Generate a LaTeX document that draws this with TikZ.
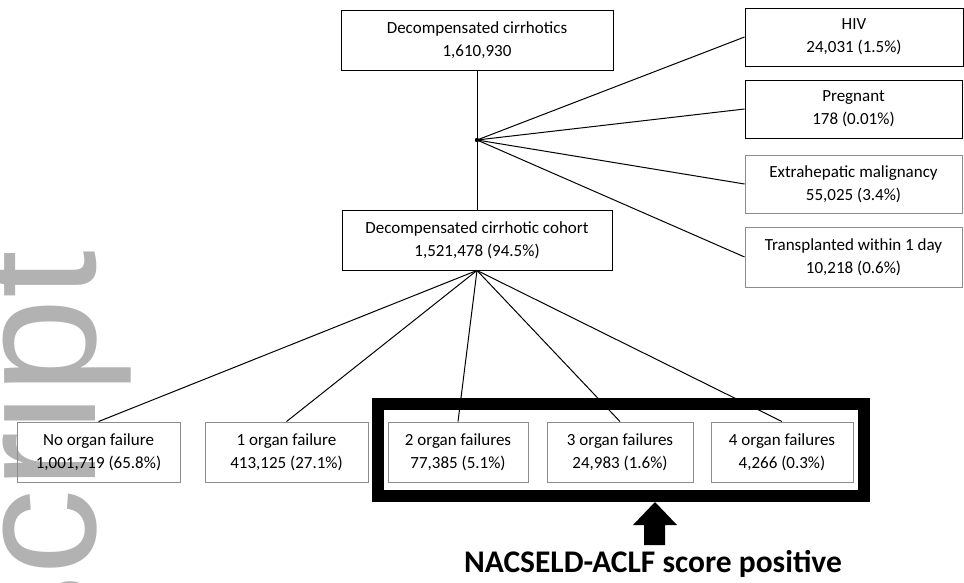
\documentclass[tikz,border=0pt]{standalone}
\usepackage{fontspec}
\setmainfont{Carlito}
\newfontfamily\wmfont{Liberation Sans}
\begin{document}
\begin{tikzpicture}[x=1pt,y=-1pt,
  box/.style={draw=black, line width=0.9pt, align=center, inner sep=0pt,
    font=\fontsize{17}{23}\selectfont},
  lightbox/.style={box, draw=black!45},
  link/.style={line width=1pt},
  wmark/.style={text=black!30, font=\wmfont\fontsize{172}{172}\selectfont,
    rotate=90, inner sep=0pt, outer sep=0pt, anchor=base east}]
\useasboundingbox (0,0) rectangle (964,582);
% watermark (behind)
\node[wmark] (wm) at (95,251) {script};
% top boxes
\node[box, minimum width=272pt, minimum height=60pt] (top) at (477,40)
  {Decompensated cirrhotics\\1,610,930};
\node[box, minimum width=270pt, minimum height=60pt] (mid) at (477,240)
  {Decompensated cirrhotic cohort\\1,521,478 (94.5\%)};
% exclusion boxes
\node[box, minimum width=218pt, minimum height=58pt] (hiv) at (854,37)
  {HIV\\24,031 (1.5\%)};
\node[box, minimum width=217pt, minimum height=58pt] (preg) at (853.5,109)
  {Pregnant\\178 (0.01\%)};
\node[lightbox, minimum width=217pt, minimum height=58pt] (extra) at (853.5,184)
  {Extrahepatic malignancy\\55,025 (3.4\%)};
\node[lightbox, minimum width=217pt, minimum height=60pt] (trans) at (853.5,257)
  {Transplanted within 1 day\\10,218 (0.6\%)};
% bottom boxes
\node[lightbox, minimum width=163pt, minimum height=60pt] (no) at (98.5,452)
  {No organ failure\\1,001,719 (65.8\%)};
\node[lightbox, minimum width=163pt, minimum height=60pt] (one) at (286.5,452)
  {1 organ failure\\413,125 (27.1\%)};
\node[lightbox, minimum width=140pt, minimum height=60pt] (two) at (458,452)
  {2 organ failures\\77,385 (5.1\%)};
\node[lightbox, minimum width=146pt, minimum height=60pt] (three) at (620,452)
  {3 organ failures\\24,983 (1.6\%)};
\node[lightbox, minimum width=142pt, minimum height=60pt] (four) at (782,452)
  {4 organ failures\\4,266 (0.3\%)};
% highlight frame
\draw[line width=12pt] (378,403.5) rectangle (864,496);
% connectors
\coordinate (br) at (477,140);
\draw[link] (top.south) -- (mid.north);
\fill (br) circle (2.2pt);
\foreach \t in {hiv,preg,extra,trans} \draw[link] (br) -- (\t.west);
\foreach \t in {no,one,two,three,four} \draw[link] (mid.south) -- (\t.north);
% arrow
\fill (655,502) -- (677,525) -- (665,525) -- (665,545) -- (644,545) -- (644,525) -- (633,525) -- cycle;
\node[anchor=base, inner sep=0pt, font=\fontsize{31.5}{36}\selectfont\bfseries] (lbl) at (653,572)
  {NACSELD-ACLF score positive};
\end{tikzpicture}
\end{document}
